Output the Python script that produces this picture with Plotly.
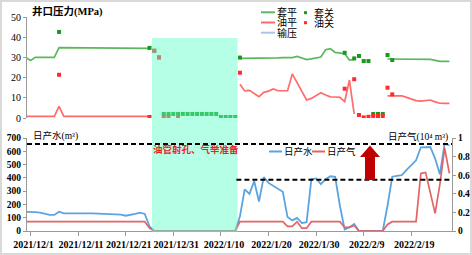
import pandas as pd
import plotly.graph_objects as go

N = None
# daily dates 2021-11-30 .. 2022-02-27 (90 days)
dates = pd.date_range("2021-11-30", "2022-02-27", freq="D")

# 套平 (casing flowing pressure, MPa)
casing_flow = (
    [30, 28.5, 30, 30, 30, 30, 30,
     34.8, 34.8, 34.8, 34.8, 34.8, 34.8, 34.7, 34.7, 34.7, 34.7, 34.7,
     34.6, 34.6, 34.6, 34.6, 34.6, 34.5, 34.5, 34.5, 34.5]
    + [N] * 18
    + [29.5, 29.5, 29.5, 29.6, 29.7, 29.8, 29.8, 29.8, 29.8, 29.9, 29.9, 29.9, 30.5,
       29.6, 28.9, 29.3, 29.8, 30.2, 33.8, 34.3, 32.5, 32.2, 31.8, 28.7, 29.0]
    + [N] * 6
    + [29.2, 29.2, 29.2, 29.2, 29.1, 29.0, 29.0, 29.0, 29.0, 29.0, 28.5, 28.0, 28.0, 28.0]
)

# 油平 (tubing flowing pressure, MPa)
tubing_flow = (
    [0.8, 0.8, 0.8, 0.8, 0.8, 0.8, 0.8, 5.8]
    + [0.8] * 19
    + [N] * 18
    + [16.7, 13.4, 13.7, 12.0, 10.5, 12.7, 13.3, 14.4, 13.5, 13.5, 13.5, 21.8, 17.5,
       12.5, 8.9, 9.7, 11.0, 12.5, 11.4, 10.5, 10.4, 10.2, 8.1, 18.8, 2.0]
    + [N] * 6
    + [11.0, 11.0, 11.0, 11.0, 10.2, 9.3, 8.6, 8.4, 8.5, 8.9, 8.0, 7.3, 7.2, 7.2]
)

# 套关 (casing shut-in pressure, MPa)  d = -1 .. 88
casing_shut = [
    N, N, N, N, N, N, N, 42.6, N, N,            # d -1..8
    N, N, N, N, N, N, N, N, N, N,               # d 9..18
    N, N, N, N, N, N, 34.7, 33.3, 30.0, 2.0,    # d 19..28
    2.0, 2.0, 2.0, 2.0, 2.0, 2.0, 2.0, 2.0, 2.0, 2.0,  # d 29..38
    2.0, 0.5, 0.5, 0.5, 0.5, 29.9, N, N, N, N,  # d 39..48
    N, N, N, N, N, N, N, N, N, N,               # d 49..58
    N, N, N, N, N, N, N, 32.3, N, 29.5,         # d 59..68
    30.7, 28.2, 28.2, 2.0, 2.0, 2.0, 31.2, 28.7, N, N,  # d 69..78
    N, N, N, N, N, N, N, N, N, N,               # d 79..88
]

# 油关 (tubing shut-in pressure, MPa)
tubing_shut = [
    N, N, N, N, N, N, N, 21.4, N, N,
    N, N, N, N, N, N, N, N, N, N,
    N, N, N, N, N, N, 0.5, 33.3, 30.0, 0.5,
    0.5, N, 0.0, N, N, N, N, N, N, N,
    N, N, N, N, N, 22.4, N, N, N, N,
    N, N, N, N, N, N, N, N, N, N,
    N, N, N, N, N, N, N, 14.5, N, 19.2,
    1.5, 0.3, 0.6, 1.0, 1.0, 1.0, 15.0, 11.7, N, N,
    N, N, N, N, N, N, N, N, N, N,
]

# 日产水 (m3)
water = (
    [145, 145, 142, 138, 128, 122, 121, 145, 133, 134, 134, 134, 133, 133, 133, 132,
     133, 131, 128, 126, 124, 115, 120, 128, 138, 128, 35, 0]
    + [0] * 17
    + [110, 314, 280, 375, 222, 405, 362, 340, 318, 295,
       105, 80, 98, 60, 66, 389, 396, 352, 390, 412,
       408, 190, 12, 28, 53, 0, 0, 0, 0, 0,
       0, 190, 409, 415, 421, 460, 494, 532, 630, 632,
       632, 545, 427, 657, 645]
)

# 日产气 (10^4 m3)
gas = (
    [0.1] * 26 + [0.03] + [0] * 18
    + [0.1, 0.1, 0.1, 0.1, 0.1, 0.1, 0.1, 0.1, 0.1, 0.1,
       0.05, 0.05, 0.1, 0.03, 0.03, 0.1, 0.1, 0.1, 0.1, 0.1,
       0.1, 0.1, 0.04, 0.04, 0.06, 0, 0, 0, 0, 0,
       0, 0.07, 0.1, 0.1, 0.1, 0.1, 0.1, 0.1, 0.62, 0.63,
       0.41, 0.19, 0.5, 0.89, 0.62]
)

tick_dates = ["2021-12-01", "2021-12-11", "2021-12-21", "2021-12-31", "2022-01-10",
              "2022-01-20", "2022-01-30", "2022-02-09", "2022-02-19"]
tick_text = ["2021/12/1", "2021/12/11", "2021/12/21", "2021/12/31", "2022/1/10",
             "2022/1/20", "2022/1/30", "2022/2/9", "2022/2/19"]
gas_ticks = [0, 0.2, 0.4, 0.6, 0.8, 1]
gas_tick_text = ["0", "0.2", "0.4", "0.6", "0.8", "1"]

# ---- geometry helpers (pixel -> paper) ----
W, H = 472, 255
L, R, T, B = 27, 20, 17, 24
PW, PH = W - L - R, H - T - B


def px(x):
    return (x - L) / PW


def py(y):
    return (H - B - y) / PH


SERIF = "Liberation Serif"
CJK = "Liberation Serif, Noto Sans CJK SC"
AX = "#9A9A9A"

C_CASING = "#5CB85C"
C_TUBING = "#FF6B6B"
C_WATER = "#5BA4E0"
C_GAS = "#E26565"
C_SHUT_G = "#1A9A1A"
C_SHUT_R = "#FF2A2A"
C_LINEPRESS = "#A9C4E8"

fig = go.Figure()
fig.add_trace(go.Scatter(x=dates, y=casing_flow, xaxis="x2", yaxis="y", mode="lines",
                         line=dict(color=C_CASING, width=1.7), showlegend=False))
fig.add_trace(go.Scatter(x=dates, y=tubing_flow, xaxis="x2", yaxis="y", mode="lines",
                         line=dict(color=C_TUBING, width=1.7), showlegend=False))
fig.add_trace(go.Scatter(x=dates, y=casing_shut, xaxis="x2", yaxis="y", mode="markers",
                         marker=dict(color=C_SHUT_G, size=4, symbol="square"), showlegend=False))
fig.add_trace(go.Scatter(x=dates, y=tubing_shut, xaxis="x2", yaxis="y", mode="markers",
                         marker=dict(color=C_SHUT_R, size=4, symbol="square"), showlegend=False))
fig.add_trace(go.Scatter(x=dates, y=water, xaxis="x", yaxis="y2", mode="lines",
                         line=dict(color=C_WATER, width=1.8), showlegend=False))
fig.add_trace(go.Scatter(x=dates, y=gas, xaxis="x", yaxis="y3", mode="lines",
                         line=dict(color=C_GAS, width=1.7), showlegend=False))

x_range = ["2021-11-30 06:20", "2022-02-27 13:10"]

fig.update_layout(
    width=W, height=H,
    margin=dict(l=L, r=R, t=T, b=B, pad=0, autoexpand=False),
    paper_bgcolor="white", plot_bgcolor="white",
    font=dict(family=CJK, size=10, color="black"),
    showlegend=False,
    xaxis=dict(type="date", range=x_range, domain=[0, 1], anchor="y2",
               tickvals=tick_dates, ticktext=tick_text, ticks="outside", ticklen=4,
               tickcolor=AX, showline=True, linecolor=AX, linewidth=1,
               showgrid=False, zeroline=False, ticklabelshift=3, tickangle=0,
               automargin=False,
               tickfont=dict(family=SERIF, size=10, color="black", weight="bold")),
    xaxis2=dict(type="date", matches="x", anchor="y", visible=False, automargin=False),
    yaxis=dict(domain=[py(118), 1], anchor="x2", range=[0, 50], dtick=10,
               showline=True, linecolor=AX, ticks="outside", ticklen=3, tickcolor=AX,
               showgrid=False, zeroline=False, automargin=False,
               tickfont=dict(family=SERIF, size=10, color="black")),
    yaxis2=dict(domain=[0, py(138)], anchor="x", range=[0, 700], dtick=100,
                showline=True, linecolor=AX, ticks="outside", ticklen=3, tickcolor=AX,
                showgrid=False, zeroline=False, automargin=False,
                tickfont=dict(family=SERIF, size=9.5, color="black", weight="bold")),
    yaxis3=dict(overlaying="y2", side="right", anchor="x", range=[0, 1],
                tickvals=gas_ticks, ticktext=gas_tick_text,
                showline=True, linecolor=AX, ticks="outside", ticklen=3, tickcolor=AX,
                showgrid=False, zeroline=False, automargin=False,
                tickfont=dict(family=SERIF, size=9.5, color="black", weight="bold")),
)

shapes = []
# operation window (semi-transparent cyan, above traces)
shapes.append(dict(type="rect", xref="x", yref="paper",
                   x0="2021-12-26 12:00", x1="2022-01-13 12:00",
                   y0=py(232), y1=py(38), line=dict(width=0),
                   fillcolor="rgb(90,255,200)", opacity=0.45, layer="above"))
# dashed reference levels
shapes.append(dict(type="line", xref="paper", yref="y2", x0=0, x1=1, y0=655, y1=655,
                   line=dict(color="black", width=2, dash="5px,3px"), layer="above"))
shapes.append(dict(type="line", xref="x", yref="y3", x0="2022-01-13 06:00", x1=x_range[1],
                   y0=0.55, y1=0.55,
                   line=dict(color="black", width=2, dash="5px,3px"), layer="above"))
# block arrow
ax0, ax1, ax2, ax3, ax4 = px(360), px(365), px(370), px(375), px(380)
ay_tip, ay_head, ay_bot = py(145.5), py(157), py(180)
path = (f"M {ax1},{ay_bot} L {ax3},{ay_bot} L {ax3},{ay_head} L {ax4},{ay_head} "
        f"L {ax2},{ay_tip} L {ax0},{ay_head} L {ax1},{ay_head} Z")
shapes.append(dict(type="path", xref="paper", yref="paper", path=path,
                   fillcolor="#C00000", line=dict(width=0), layer="above"))

# manual legend (top)
for yy, col in [(12.3, C_CASING), (22.5, C_TUBING), (32.7, C_LINEPRESS)]:
    shapes.append(dict(type="line", xref="paper", yref="paper", x0=px(261), x1=px(275),
                       y0=py(yy), y1=py(yy), line=dict(color=col, width=2)))
for yy, col in [(12.7, C_SHUT_G), (22.7, C_SHUT_R)]:
    shapes.append(dict(type="rect", xref="paper", yref="paper", x0=px(304), x1=px(307),
                       y0=py(yy + 1.5), y1=py(yy - 1.5), fillcolor=col, line=dict(width=0)))
# manual legend (bottom)
shapes.append(dict(type="line", xref="paper", yref="paper", x0=px(269), x1=px(282),
                   y0=py(151.5), y1=py(151.5), line=dict(color=C_WATER, width=2)))
shapes.append(dict(type="line", xref="paper", yref="paper", x0=px(312), x1=px(325),
                   y0=py(151.5), y1=py(151.5), line=dict(color=C_GAS, width=2)))
# outer frame
shapes.append(dict(type="rect", xref="paper", yref="paper", x0=px(1), x1=px(471),
                   y0=py(254), y1=py(1), line=dict(color="#D9D9D9", width=2)))
fig.update_layout(shapes=shapes)


def ann(text, x, y, xanchor="left", size=10, color="black", weight="normal"):
    return dict(text=text, x=px(x), y=py(y), xref="paper", yref="paper",
                xanchor=xanchor, yanchor="middle", showarrow=False, borderpad=0,
                font=dict(family=CJK, size=size, color=color, weight=weight))


annotations = [
    ann("井口压力(MPa)", 31, 11.7, size=10.5, weight="bold"),
    ann("日产水(m³)", 32, 136, size=9.5),
    ann("日产气(10⁴ m³)", 449, 137, xanchor="right", size=9.5),
    ann("油管射孔、气举准备", 196, 149, xanchor="center", size=9.5, color="#F02020", weight="bold"),
    ann("套平", 276, 12.3, size=10),
    ann("油平", 276, 22.5, size=10),
    ann("输压", 276, 32.7, size=10),
    ann("套关", 313, 12.7, size=10),
    ann("油关", 313, 22.7, size=10),
    ann("日产水", 282.5, 151.5, size=9.5),
    ann("日产气", 325.5, 151.5, size=9.5),
]
fig.update_layout(annotations=annotations)

fig.write_html("out.html", config={"displayModeBar": False},
               post_script="document.body.style.margin='0';document.body.style.overflow='hidden';")
